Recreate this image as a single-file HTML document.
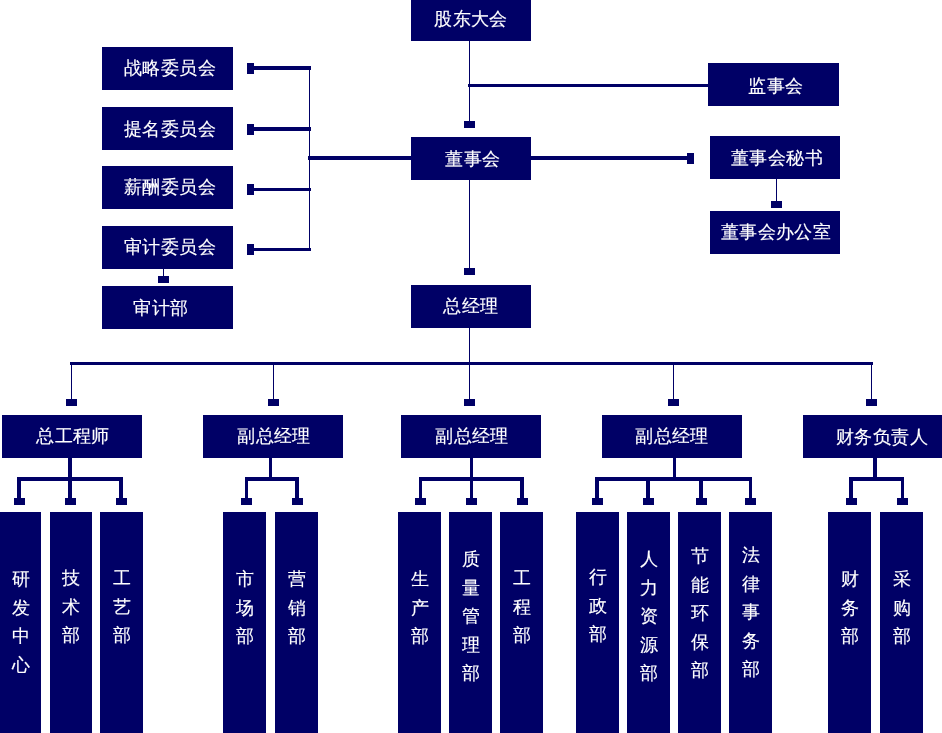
<!DOCTYPE html>
<html><head><meta charset="utf-8"><style>
html,body{margin:0;padding:0;background:#fff;}
body{width:942px;height:733px;position:relative;overflow:hidden;font-family:"Liberation Sans",sans-serif;}
.r{position:absolute;background:#000066;}
.t{position:absolute;will-change:transform;-webkit-text-stroke:0.15px #fff;width:300px;height:30px;line-height:30px;color:#fff;font-size:18.0px;letter-spacing:0.45px;text-align:center;white-space:nowrap;}
.v{position:absolute;will-change:transform;-webkit-text-stroke:0.15px #fff;width:30px;color:#fff;font-size:18.0px;line-height:28.5px;text-align:center;}
</style></head><body>
<div class="r" style="left:411px;top:0px;width:120px;height:41px"></div><div class="r" style="left:708px;top:63px;width:131px;height:43px"></div><div class="r" style="left:102px;top:47px;width:131px;height:43px"></div><div class="r" style="left:102px;top:107px;width:131px;height:43px"></div><div class="r" style="left:102px;top:166px;width:131px;height:43px"></div><div class="r" style="left:102px;top:226px;width:131px;height:43px"></div><div class="r" style="left:102px;top:286px;width:131px;height:43px"></div><div class="r" style="left:411px;top:137px;width:120px;height:43px"></div><div class="r" style="left:710px;top:136px;width:130px;height:43px"></div><div class="r" style="left:710px;top:211px;width:130px;height:43px"></div><div class="r" style="left:411px;top:285px;width:120px;height:43px"></div><div class="r" style="left:2px;top:415px;width:140px;height:43px"></div><div class="r" style="left:203px;top:415px;width:140px;height:43px"></div><div class="r" style="left:401px;top:415px;width:140px;height:43px"></div><div class="r" style="left:602px;top:415px;width:140px;height:43px"></div><div class="r" style="left:803px;top:415px;width:140px;height:43px"></div><div class="r" style="left:0px;top:512px;width:41px;height:228px"></div><div class="r" style="left:50px;top:512px;width:42px;height:228px"></div><div class="r" style="left:100px;top:512px;width:43px;height:228px"></div><div class="r" style="left:223px;top:512px;width:43px;height:228px"></div><div class="r" style="left:275px;top:512px;width:43px;height:228px"></div><div class="r" style="left:398px;top:512px;width:43px;height:228px"></div><div class="r" style="left:449px;top:512px;width:43px;height:228px"></div><div class="r" style="left:500px;top:512px;width:43px;height:228px"></div><div class="r" style="left:576px;top:512px;width:43px;height:228px"></div><div class="r" style="left:627px;top:512px;width:43px;height:228px"></div><div class="r" style="left:678px;top:512px;width:43px;height:228px"></div><div class="r" style="left:729px;top:512px;width:43px;height:228px"></div><div class="r" style="left:828px;top:512px;width:43px;height:228px"></div><div class="r" style="left:880px;top:512px;width:43px;height:228px"></div><div class="r" style="left:469px;top:41px;width:1px;height:80px"></div><div class="r" style="left:464px;top:121px;width:11px;height:7px"></div><div class="r" style="left:468px;top:84px;width:240px;height:3px"></div><div class="r" style="left:469px;top:180px;width:1px;height:88px"></div><div class="r" style="left:464px;top:268px;width:11px;height:7px"></div><div class="r" style="left:531px;top:156px;width:156px;height:4px"></div><div class="r" style="left:687px;top:153px;width:7px;height:11px"></div><div class="r" style="left:776px;top:179px;width:1px;height:22px"></div><div class="r" style="left:771px;top:201px;width:11px;height:7px"></div><div class="r" style="left:309px;top:67px;width:1px;height:184px"></div><div class="r" style="left:254px;top:66px;width:57px;height:4px"></div><div class="r" style="left:247px;top:63px;width:7px;height:11px"></div><div class="r" style="left:254px;top:127px;width:57px;height:4px"></div><div class="r" style="left:247px;top:124px;width:7px;height:11px"></div><div class="r" style="left:254px;top:188px;width:57px;height:3px"></div><div class="r" style="left:247px;top:184px;width:7px;height:11px"></div><div class="r" style="left:254px;top:248px;width:57px;height:3px"></div><div class="r" style="left:247px;top:244px;width:7px;height:11px"></div><div class="r" style="left:308px;top:156px;width:103px;height:4px"></div><div class="r" style="left:163px;top:269px;width:1px;height:7px"></div><div class="r" style="left:158px;top:276px;width:11px;height:7px"></div><div class="r" style="left:469px;top:328px;width:1px;height:71px"></div><div class="r" style="left:70px;top:362px;width:803px;height:3px"></div><div class="r" style="left:71px;top:365px;width:1px;height:34px"></div><div class="r" style="left:66px;top:399px;width:11px;height:7px"></div><div class="r" style="left:273px;top:365px;width:1px;height:34px"></div><div class="r" style="left:268px;top:399px;width:11px;height:7px"></div><div class="r" style="left:464px;top:399px;width:11px;height:7px"></div><div class="r" style="left:673px;top:365px;width:1px;height:34px"></div><div class="r" style="left:668px;top:399px;width:11px;height:7px"></div><div class="r" style="left:871px;top:365px;width:1px;height:34px"></div><div class="r" style="left:866px;top:399px;width:11px;height:7px"></div><div class="r" style="left:68px;top:458px;width:4px;height:19px"></div><div class="r" style="left:17px;top:477px;width:106px;height:4px"></div><div class="r" style="left:17px;top:481px;width:4px;height:17px"></div><div class="r" style="left:68px;top:481px;width:4px;height:17px"></div><div class="r" style="left:119px;top:481px;width:4px;height:17px"></div><div class="r" style="left:14px;top:498px;width:11px;height:7px"></div><div class="r" style="left:65px;top:498px;width:11px;height:7px"></div><div class="r" style="left:116px;top:498px;width:11px;height:7px"></div><div class="r" style="left:269px;top:458px;width:3px;height:19px"></div><div class="r" style="left:245px;top:477px;width:54px;height:4px"></div><div class="r" style="left:245px;top:481px;width:3px;height:17px"></div><div class="r" style="left:295px;top:481px;width:4px;height:17px"></div><div class="r" style="left:241px;top:498px;width:11px;height:7px"></div><div class="r" style="left:292px;top:498px;width:11px;height:7px"></div><div class="r" style="left:470px;top:458px;width:3px;height:19px"></div><div class="r" style="left:419px;top:477px;width:105px;height:4px"></div><div class="r" style="left:419px;top:481px;width:3px;height:17px"></div><div class="r" style="left:470px;top:481px;width:3px;height:17px"></div><div class="r" style="left:520px;top:481px;width:4px;height:17px"></div><div class="r" style="left:415px;top:498px;width:11px;height:7px"></div><div class="r" style="left:466px;top:498px;width:11px;height:7px"></div><div class="r" style="left:517px;top:498px;width:11px;height:7px"></div><div class="r" style="left:673px;top:458px;width:3px;height:19px"></div><div class="r" style="left:595px;top:477px;width:157px;height:4px"></div><div class="r" style="left:595px;top:481px;width:4px;height:17px"></div><div class="r" style="left:646px;top:481px;width:4px;height:17px"></div><div class="r" style="left:699px;top:481px;width:4px;height:17px"></div><div class="r" style="left:749px;top:481px;width:3px;height:17px"></div><div class="r" style="left:592px;top:498px;width:11px;height:7px"></div><div class="r" style="left:643px;top:498px;width:11px;height:7px"></div><div class="r" style="left:696px;top:498px;width:11px;height:7px"></div><div class="r" style="left:745px;top:498px;width:11px;height:7px"></div><div class="r" style="left:873px;top:458px;width:4px;height:19px"></div><div class="r" style="left:849px;top:477px;width:55px;height:4px"></div><div class="r" style="left:849px;top:481px;width:4px;height:17px"></div><div class="r" style="left:901px;top:481px;width:3px;height:17px"></div><div class="r" style="left:846px;top:498px;width:11px;height:7px"></div><div class="r" style="left:897px;top:498px;width:11px;height:7px"></div>
<div class="t" style="left:321.00px;top:4.00px">股东大会</div><div class="t" style="left:626.10px;top:70.70px">监事会</div><div class="t" style="left:19.75px;top:53.45px">战略委员会</div><div class="t" style="left:19.95px;top:113.95px">提名委员会</div><div class="t" style="left:20.15px;top:172.25px">薪酬委员会</div><div class="t" style="left:20.10px;top:232.25px">审计委员会</div><div class="t" style="left:10.55px;top:292.75px">审计部</div><div class="t" style="left:322.75px;top:144.35px">董事会</div><div class="t" style="left:627.15px;top:142.95px">董事会秘书</div><div class="t" style="left:626.35px;top:217.40px">董事会办公室</div><div class="t" style="left:320.55px;top:291.00px">总经理</div><div class="t" style="left:-77.05px;top:421.05px">总工程师</div><div class="t" style="left:124.10px;top:421.00px">副总经理</div><div class="t" style="left:322.10px;top:421.00px">副总经理</div><div class="t" style="left:522.15px;top:421.00px">副总经理</div><div class="t" style="left:732.00px;top:421.95px">财务负责人</div><div class="v" style="left:5.50px;top:564.70px">研<br>发<br>中<br>心</div><div class="v" style="left:56.00px;top:564.30px">技<br>术<br>部</div><div class="v" style="left:106.50px;top:563.80px">工<br>艺<br>部</div><div class="v" style="left:229.50px;top:564.60px">市<br>场<br>部</div><div class="v" style="left:281.50px;top:564.60px">营<br>销<br>部</div><div class="v" style="left:404.50px;top:564.60px">生<br>产<br>部</div><div class="v" style="left:455.50px;top:545.10px">质<br>量<br>管<br>理<br>部</div><div class="v" style="left:506.50px;top:564.20px">工<br>程<br>部</div><div class="v" style="left:582.50px;top:563.40px">行<br>政<br>部</div><div class="v" style="left:633.50px;top:545.40px">人<br>力<br>资<br>源<br>部</div><div class="v" style="left:684.50px;top:542.20px">节<br>能<br>环<br>保<br>部</div><div class="v" style="left:735.50px;top:540.80px">法<br>律<br>事<br>务<br>部</div><div class="v" style="left:834.50px;top:564.90px">财<br>务<br>部</div><div class="v" style="left:886.50px;top:564.90px">采<br>购<br>部</div>
</body></html>
